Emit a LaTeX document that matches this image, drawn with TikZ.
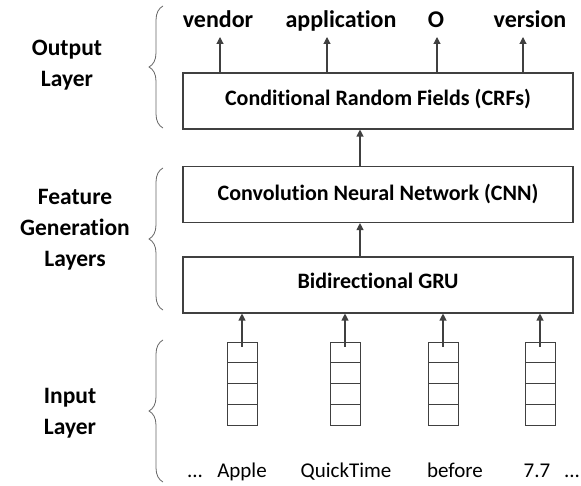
\documentclass[tikz,border=0pt]{standalone}
\usepackage{fontspec}
\setmainfont[Ligatures=NoCommon]{Carlito}
\usetikzlibrary{arrows.meta,decorations.pathreplacing}
\begin{document}
\begin{tikzpicture}[x=1pt,y=-1pt,
  layerbox/.style={draw=black!75,line width=1.1pt,minimum width=390pt,minimum height=56pt,inner sep=0pt,font=\fontsize{22}{24}\selectfont\bfseries},
  arr/.style={draw=black!75,line width=1.1pt,-{Triangle[length=7pt,width=7pt]}},
  brc/.style={draw=black!60,line width=0.8pt,decorate,decoration={brace,amplitude=14pt}},
  side/.style={font=\fontsize{23.5}{31}\selectfont\bfseries,align=center},
  toplab/.style={font=\fontsize{24}{26}\selectfont\bfseries,anchor=base,inner sep=0pt},
  word/.style={font=\fontsize{21}{24}\selectfont,anchor=base,inner sep=0pt},
  cell/.style={draw=black!75,line width=0.9pt,minimum width=30pt,minimum height=20.75pt,inner sep=0pt}
]
\useasboundingbox (0,0) rectangle (581,486);
% boxes
\node[layerbox] (crf) at (378,101) {\raisebox{7pt}{Conditional Random Fields (CRFs)}};
\node[layerbox] (cnn) at (378,194.5) {\raisebox{4pt}{Convolution Neural Network (CNN)}};
\node[layerbox] (gru) at (378,285) {\raisebox{8pt}{Bidirectional GRU}};
% top labels
\node[toplab] (l1) at (218,28) {vendor};
\node[toplab] (l2) at (341,28) {application};
\node[toplab] (l3) at (436,28) {O};
\node[toplab] (l4) at (530,28) {version};
\coordinate (t1) at (220,37);
\coordinate (t2) at (327,37);
\coordinate (t3) at (437,37);
\coordinate (t4) at (523,37);
\foreach \i in {1,2,3,4}{ \draw[arr] (crf.north -| t\i) -- (t\i); }
\draw[arr] (360,166.5) -- (crf.south -| 360,0);
\draw[arr] (360,257) -- (cnn.south -| 360,0);
% vectors
\foreach \n/\x in {a/242,b/345,c/443,d/540}{
  \node[cell] (\n1) at (\x,352.4) {};
  \node[cell] (\n2) at (\x,373.1) {};
  \node[cell] (\n3) at (\x,393.9) {};
  \node[cell] (\n4) at (\x,414.6) {};
  \draw[arr] ([yshift=-5pt]\n1.north) -- (gru.south -| \n1.north);
}
% words
\node[word] (w0) at (195,477) {...};
\node[word] (w1) at (242,477) {Apple};
\node[word] (w2) at (346,477) {QuickTime};
\node[word] (w3) at (455,477) {before};
\node[word] (w4) at (537,477) {7.7};
\node[word] (w5) at (572,477) {...};
% braces
\draw[brc] (163,128) -- (163,6);
\draw[brc] (163,310) -- (163,168);
\draw[brc] (163,482) -- (163,340);
% side labels
\node[side] (s1) at (67,65) {Output\\Layer};
\node[side] (s2) at (75,230) {Feature\\Generation\\Layers};
\node[side] (s3) at (70,413) {Input\\Layer};
\end{tikzpicture}
\end{document}
